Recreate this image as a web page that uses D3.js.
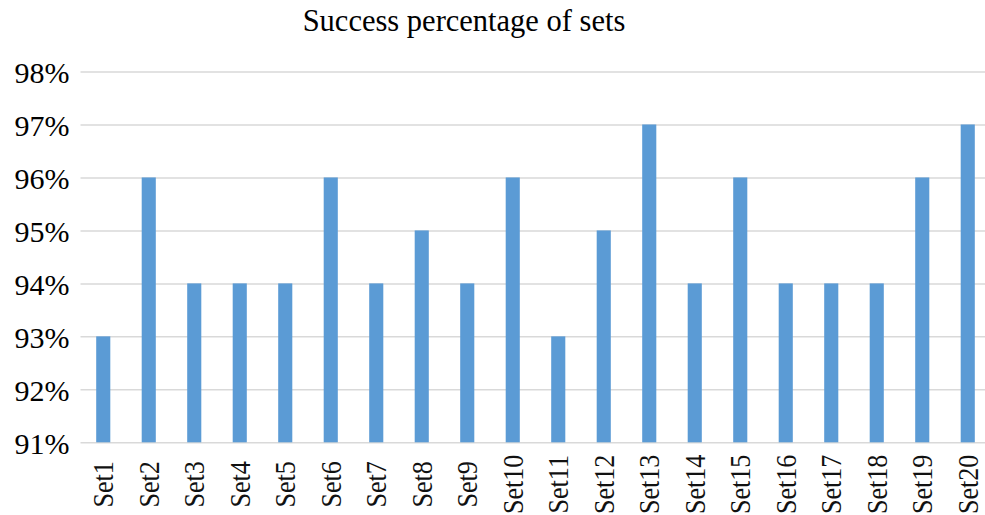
<!DOCTYPE html>
<html>
<head>
<meta charset="utf-8">
<script src="https://cdn.jsdelivr.net/npm/d3@7"></script>
<style>
  html, body { margin: 0; padding: 0; background: #fff; }
  svg { display: block; }
</style>
</head>
<body>
<svg id="chart" width="985" height="515"></svg>
<script>
// Chart data
const categories = ["Set1","Set2","Set3","Set4","Set5","Set6","Set7","Set8","Set9","Set10",
                    "Set11","Set12","Set13","Set14","Set15","Set16","Set17","Set18","Set19","Set20"];
const successValues = [93, 96, 94, 94, 94, 96, 94, 95, 94, 96, 93, 95, 97, 94, 96, 94, 94, 94, 96, 97];
const yTicks = [91, 92, 93, 94, 95, 96, 97, 98];
const chartTitle = "Success percentage of sets";

const svg = d3.select("#chart");
const W = 985, H = 515;
const serif = "'Liberation Serif', 'Times New Roman', serif";

const plot = { left: 80.5, right: 990.5, top: 71.5, bottom: 442.3 };

const x = d3.scaleBand()
  .domain(categories)
  .range([plot.left, plot.right])
  .paddingInner(0.69)
  .paddingOuter(0.345);

const y = d3.scaleLinear()
  .domain([91, 98])
  .range([plot.bottom, plot.top]);

// Title
svg.append("text")
  .attr("x", 464)
  .attr("y", 31)
  .attr("text-anchor", "middle")
  .attr("font-family", serif)
  .attr("font-size", 30.5)
  .attr("fill", "#000")
  .text(chartTitle);

// Horizontal gridlines + y labels via axis
const yAxis = d3.axisLeft(y)
  .tickValues(yTicks)
  .tickSize(-(W - plot.left))
  .tickPadding(11)
  .tickFormat(d => d + "%");

const gy = svg.append("g")
  .attr("transform", `translate(${plot.left},0)`)
  .call(yAxis);
gy.select(".domain").remove();
gy.selectAll(".tick line")
  .attr("stroke", "#d9d9d9")
  .attr("stroke-width", 1.5);
gy.selectAll(".tick text")
  .attr("font-family", serif)
  .attr("font-size", 30)
  .attr("fill", "#000")
  .attr("dy", "0.36em");

// Bars
svg.append("g")
  .selectAll("rect")
  .data(successValues)
  .join("rect")
  .attr("x", (d, i) => x(categories[i]))
  .attr("width", x.bandwidth())
  .attr("y", d => y(d))
  .attr("height", d => y(91) - y(d))
  .attr("fill", "#5b9bd5");

// Category labels, rotated and centred below each bar
const xAxis = d3.axisBottom(x).tickSize(0).tickPadding(0);
const gx = svg.append("g")
  .attr("transform", `translate(0,${plot.bottom})`)
  .call(xAxis);
gx.select(".domain").remove();
gx.selectAll(".tick text")
  .attr("font-family", serif)
  .attr("font-size", 30)
  .attr("fill", "#111")
  .attr("text-anchor", "middle")
  .attr("y", 0)
  .attr("dy", 0)
  .attr("transform", "translate(10,42) rotate(-90) scale(0.87,1)");
</script>
</body>
</html>
